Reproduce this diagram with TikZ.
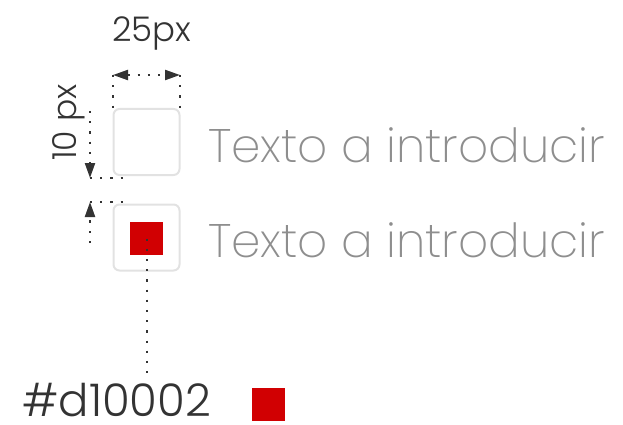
\documentclass[tikz,border=0pt]{standalone}
\usepackage{fontspec}
\setmainfont{Poppins}[UprightFont=* Light]
\newfontfamily\thinfont{Poppins}[UprightFont=* ExtraLight]
\usetikzlibrary{arrows.meta,positioning}
\definecolor{cred}{HTML}{D10002}
\definecolor{cframe}{HTML}{E2E2E2}
\definecolor{ctext}{HTML}{8E8E8E}
\definecolor{cdim}{HTML}{333333}
\tikzset{frame/.style={draw=cframe,line width=2pt,rounded corners=6pt,minimum size=66pt,inner sep=0pt},
         swatch/.style={fill=cred,minimum size=33pt,inner sep=0pt},
         dotline/.style={cdim,line width=2.2pt,dash pattern=on 2.2pt off 8pt},
         dimtip/.style={cdim,line width=2.2pt,dash pattern=on 2.2pt off 8pt,
                        >={Triangle[length=15pt,width=10pt]}},
         label/.style={ctext,font=\thinfont\fontsize{47}{50}\selectfont,inner sep=0pt},
         dimlabel/.style={cdim,inner sep=0pt}}
\begin{document}
\begin{tikzpicture}[x=1pt,y=-1pt]
  \useasboundingbox (0,0) rectangle (623,425);
  % boxes
  \node[frame] (box1) at (146.5,142) {};
  \node[frame] (box2) at (146.5,237.5) {};
  \node[swatch] (mark) at (146.7,238.5) {};
  \node[label,anchor=base west] (txt1) at (208,162) {Texto a introducir};
  \node[label,anchor=base west] (txt2) at (208,257) {Texto a introducir};
  % width
  \coordinate (wl) at (113,75);
  \coordinate (wr) at (180,75);
  \draw[dimtip,<->] (wl) -- (wr);
  \draw[dotline] (wl) -- (wl |- box1.north);
  \draw[dotline] (wr) -- (wr |- box1.north);
  \node[dimlabel,anchor=base,font=\fontsize{34}{36}\selectfont] (wlab) at (152,42) {25px};
  % gap
  \coordinate (ga) at (90,111);
  \coordinate (gb) at (90,178);
  \coordinate (gc) at (90,202);
  \coordinate (gd) at (90,243);
  \draw[dimtip,->] (ga) -- (gb);
  \draw[dimtip,->] (gd) -- (gc);
  \draw[dotline] (gb) -- (125,178);
  \draw[dotline] (gc) -- (125,202);
  \node[dimlabel,anchor=base,rotate=90,font=\fontsize{33}{35}\selectfont] (glab) at (76,122.5) {10 px};
  % colour
  \coordinate (hexend) at (146.7,377);
  \draw[dotline] (mark.center) -- (hexend);
  \node[dimlabel,anchor=base west,font=\fontsize{45}{48}\selectfont] (hex) at (22,416) {\#d10002};
  \node[swatch] (chip) at (268.5,404) {};
\end{tikzpicture}
\end{document}
